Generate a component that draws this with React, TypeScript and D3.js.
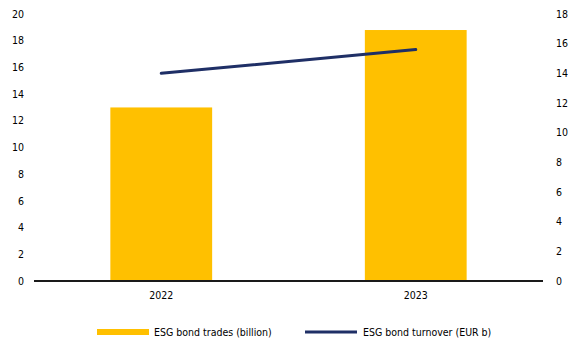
import React from "react";
import * as d3 from "d3";

const categories = ["2022", "2023"];
const tradesValues = [13.0, 18.8];
const turnoverValues = [14.0, 15.6];
const leftTicks = [0, 2, 4, 6, 8, 10, 12, 14, 16, 18, 20];
const rightTicks = [0, 2, 4, 6, 8, 10, 12, 14, 16, 18];
const seriesNames = ["ESG bond trades (billion)", "ESG bond turnover (EUR b)"];

const W = 573;
const H = 342;
const M = { left: 34, right: 30, top: 14, bottom: 61 };
const FONT = "'DejaVu Sans Condensed', 'DejaVu Sans', sans-serif";
const GOLD = "#FFC000";
const NAVY = "#1F2F66";

export default function App() {
  const x = d3
    .scaleBand<string>()
    .domain(categories)
    .range([M.left, W - M.right])
    .paddingInner(0.6)
    .paddingOuter(0.3);
  const yL = d3.scaleLinear().domain([0, 20]).range([H - M.bottom, M.top]);
  const yR = d3.scaleLinear().domain([0, 18]).range([H - M.bottom, M.top]);
  const line = d3
    .line<number>()
    .x((_, i) => (x(categories[i]) as number) + x.bandwidth() / 2)
    .y((d) => yR(d));

  return (
    <svg
      width={W}
      height={H}
      style={{ position: "absolute", left: 0, top: 0 }}
      fontFamily={FONT}
      fontSize={10.5}
    >
      <rect width={W} height={H} fill="#fff" />
      {categories.map((c, i) => (
        <rect
          key={c}
          x={x(c)}
          y={yL(tradesValues[i])}
          width={x.bandwidth()}
          height={yL(0) - yL(tradesValues[i])}
          fill={GOLD}
        />
      ))}
      <line
        x1={M.left}
        x2={W - M.right}
        y1={yL(0)}
        y2={yL(0)}
        stroke="#1a1a1a"
        strokeWidth={2}
      />
      <path
        d={line(turnoverValues) || ""}
        fill="none"
        stroke={NAVY}
        strokeWidth={3}
        strokeLinecap="round"
      />
      {leftTicks.map((t) => (
        <text key={"l" + t} x={24} y={yL(t)} dy="0.35em" textAnchor="end" fill="#000">
          {t}
        </text>
      ))}
      {rightTicks.map((t) => (
        <text key={"r" + t} x={556} y={yR(t)} dy="0.35em" textAnchor="start" fill="#000">
          {t}
        </text>
      ))}
      {categories.map((c) => (
        <text
          key={"c" + c}
          x={(x(c) as number) + x.bandwidth() / 2}
          y={295}
          dy="0.35em"
          textAnchor="middle"
          fill="#000"
        >
          {c}
        </text>
      ))}
      <rect x={97} y={329} width={52} height={6} fill={GOLD} />
      <text x={154} y={332} dy="0.35em" fill="#000">
        {seriesNames[0]}
      </text>
      <line x1={305} x2={357} y1={332} y2={332} stroke={NAVY} strokeWidth={3} />
      <text x={363} y={332} dy="0.35em" fill="#000">
        {seriesNames[1]}
      </text>
    </svg>
  );
}
